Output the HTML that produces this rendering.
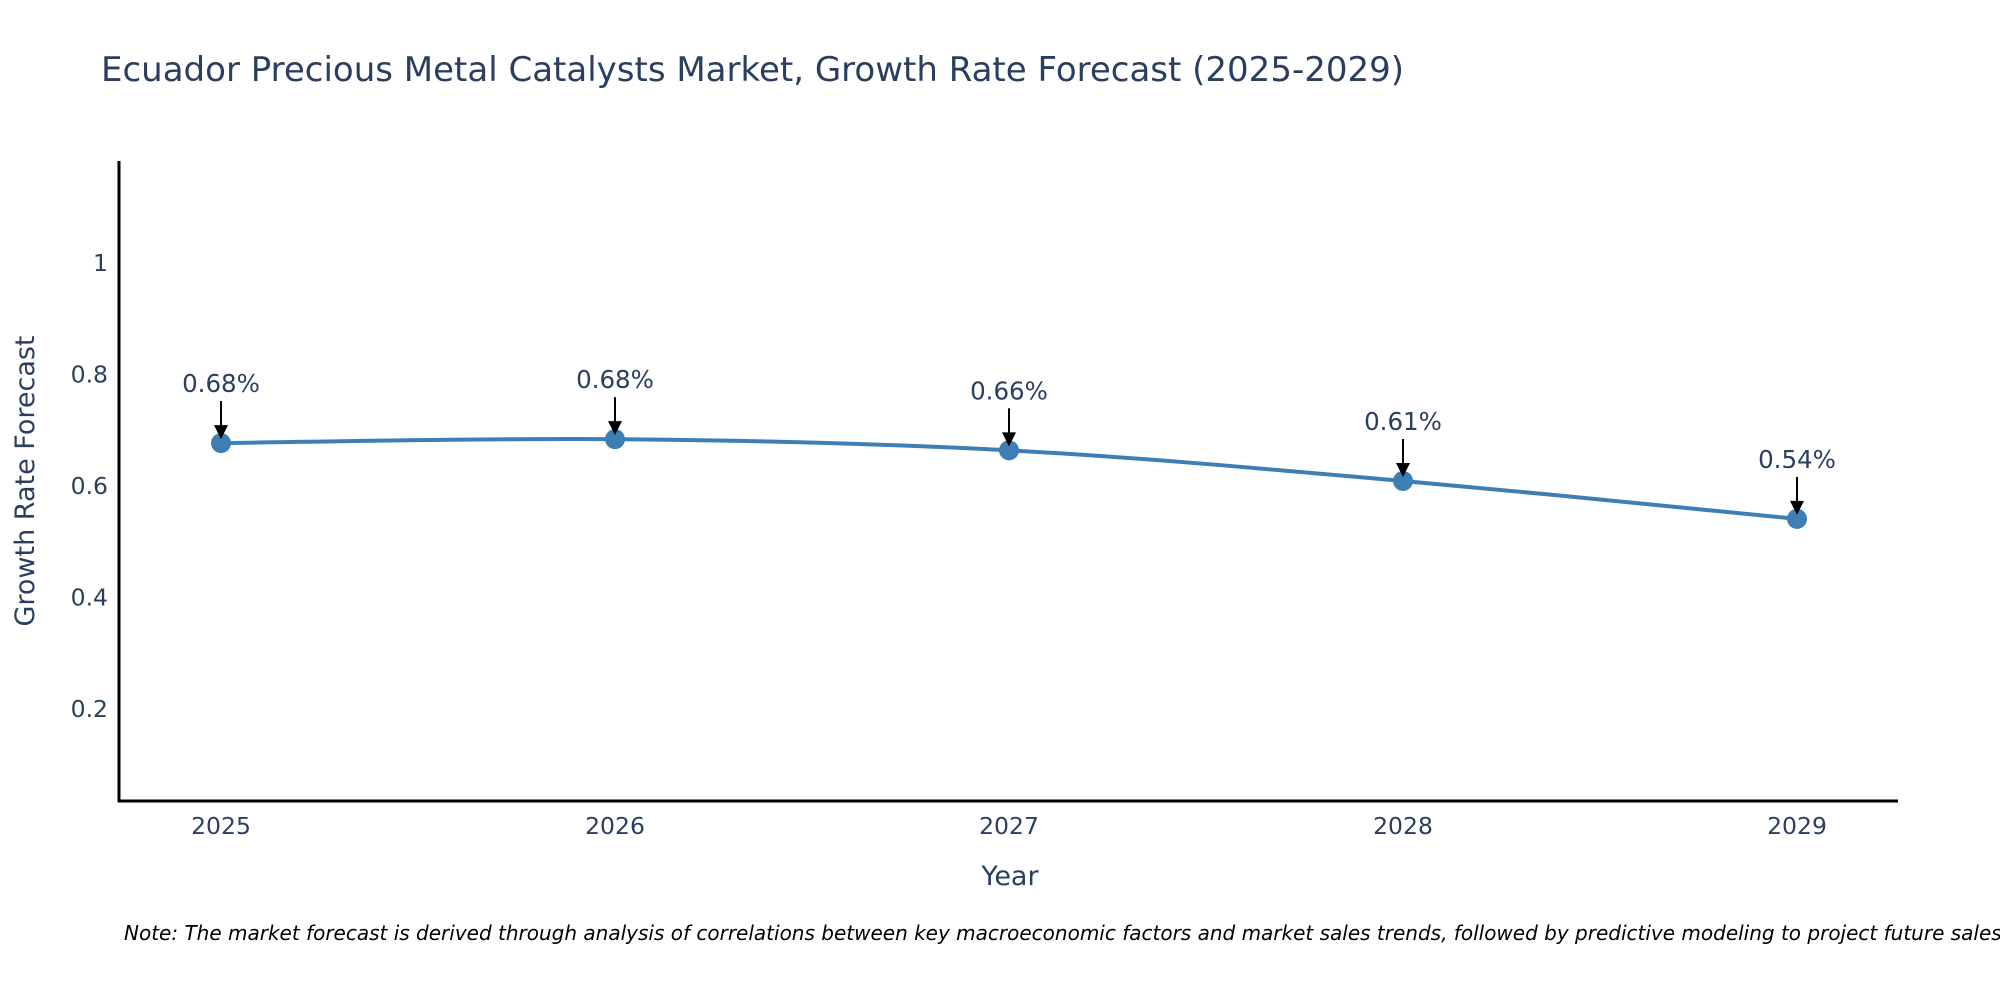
<!DOCTYPE html>
<html><head><meta charset="utf-8"><style>
body{margin:0;background:#fff;}
svg{display:block;font-family:"DejaVu Sans","Liberation Sans",sans-serif;}
</style></head><body>
<svg id="chart" width="2000" height="1000">
<text x="101" y="81" font-size="34" fill="#2a3f5f">Ecuador Precious Metal Catalysts Market, Growth Rate Forecast (2025-2029)</text>
<g id="yticks"></g>
<g id="xticks"></g>
<line x1="119" y1="161" x2="119" y2="802" stroke="#000" stroke-width="3"/>
<line x1="118" y1="801" x2="1898" y2="801" stroke="#000" stroke-width="3"/>
<text transform="translate(34,481) rotate(-90)" text-anchor="middle" font-size="27" fill="#2a3f5f">Growth Rate Forecast</text>
<text x="1010" y="885" text-anchor="middle" font-size="27" fill="#2a3f5f">Year</text>
<g id="series"></g>
<g id="annots"></g>
<text x="124" y="940" font-size="20" font-style="italic" fill="#000">Note: The market forecast is derived through analysis of correlations between key macroeconomic factors and market sales trends, followed by predictive modeling to project future sales.</text>
</svg>
<script>
const years = [2025, 2026, 2027, 2028, 2029];
const growth = [0.677, 0.684, 0.664, 0.609, 0.541];
const labels = ["0.68%", "0.68%", "0.66%", "0.61%", "0.54%"];
const yTickVals = [0.2, 0.4, 0.6, 0.8, 1];
const yTickLabels = ["0.2", "0.4", "0.6", "0.8", "1"];

const NS = "http://www.w3.org/2000/svg";
function xScale(v){ return 221 + (v - 2025) * 394; }
function yScale(v){ return 820.5 - v * 557.5; }
function mk(tag, attrs, parent){ const e=document.createElementNS(NS,tag); for(const k in attrs) e.setAttribute(k,attrs[k]); parent.appendChild(e); return e; }

const yt=document.getElementById('yticks');
yTickVals.forEach((v,i)=>{
  const t=mk('text',{x:108,y:yScale(v)+8,'text-anchor':'end','font-size':23.5,fill:'#2a3f5f'},yt);
  
  
  t.textContent=yTickLabels[i];
});
const xt=document.getElementById('xticks');
years.forEach(y=>{
  const t=mk('text',{x:xScale(y),y:834,'text-anchor':'middle','font-size':23.5,fill:'#2a3f5f'},xt);
  
  
  t.textContent=String(y);
});

const pts=years.map((y,i)=>[xScale(y),yScale(growth[i])]);
let d='M'+pts[0][0]+','+pts[0][1];
const s=0.5/3;
for(let i=0;i<pts.length-1;i++){
  const p0=pts[Math.max(0,i-1)],p1=pts[i],p2=pts[i+1],p3=pts[Math.min(pts.length-1,i+2)];
  const c1=[p1[0]+(p2[0]-p0[0])*s,p1[1]+(p2[1]-p0[1])*s];
  const c2=[p2[0]-(p3[0]-p1[0])*s,p2[1]-(p3[1]-p1[1])*s];
  d+=' C'+c1[0]+','+c1[1]+' '+c2[0]+','+c2[1]+' '+p2[0]+','+p2[1];
}
const ser=document.getElementById('series');
const line=mk('path',{d:d,fill:'none',stroke:'#3d7fb4','stroke-width':4},ser);


pts.forEach(p=>{
  const c=mk('circle',{cx:p[0],cy:p[1],r:10,fill:'#3d7fb4'},ser);
  
  
});
const an=document.getElementById('annots');
pts.forEach((p,i)=>{
  const g=mk('g',{},an);
  
  
  mk('line',{x1:p[0],y1:p[1]-42,x2:p[0],y2:p[1]-16,stroke:'#000','stroke-width':2},g);
  mk('polygon',{points:(p[0]-7)+','+(p[1]-18)+' '+(p[0]+7)+','+(p[1]-18)+' '+p[0]+','+(p[1]-4),fill:'#000'},g);
  const t=mk('text',{x:p[0],y:p[1]-51,'text-anchor':'middle','font-size':24.5,fill:'#2a3f5f'},g);
  t.textContent=labels[i];
});
</script>
</body></html>
